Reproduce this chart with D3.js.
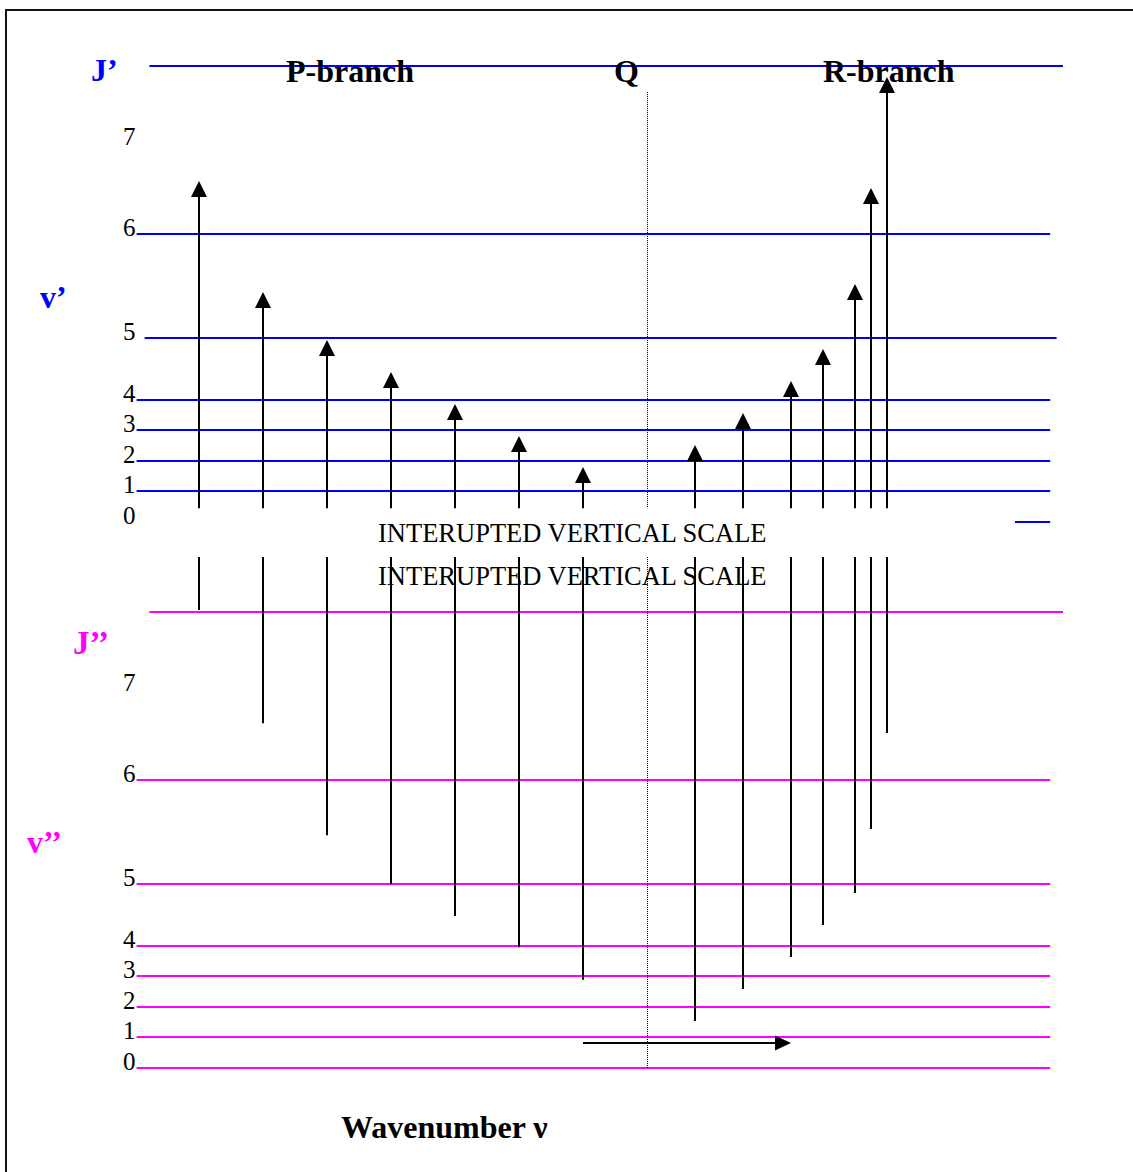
<!DOCTYPE html>
<html>
<head>
<meta charset="utf-8">
<script src="https://cdn.jsdelivr.net/npm/d3@7/dist/d3.min.js"></script>
<style>
  body { margin: 0; background: #fff; }
  svg { display: block; }
  text { font-family: "Liberation Serif", "Times New Roman", serif; }
</style>
</head>
<body>
<script>
// level labels and their (schematic) energies, in level-spacing units
const levelLabels = ["0", "1", "2", "3", "4", "5", "6", "7"];
const levelEnergy = [0, 1, 2, 3, 4, 6, 9.4, 12.4];

// wavenumber positions of the lines (Q = 0)
const pWavenumber = [-28, -24, -20, -16, -12, -8, -4];
const rWavenumber = [3, 6, 9, 11, 13, 14, 15];
const qWavenumber = 0;

// where each transition ends in the upper (J') and lower (J'') panels
const pUpperEnd = [11.14, 7.52, 5.95, 4.90, 3.86, 2.81, 1.80];
const rUpperEnd = [2.52, 3.56, 4.61, 5.65, 7.78, 10.92, 14.54];
const pLowerEnd = [14.97, 11.27, 7.61, 6.01, 4.97, 3.95, 2.88];
const rLowerEnd = [1.54, 2.58, 3.63, 4.67, 5.72, 7.81, 10.95];

const topLevel = 14.9;      // J' / J'' reference line
const breakUpper = 0.45;    // where the upper panel is cut
const breakLower = 16.7;    // where the lower panel is cut
const shiftArrow = [-4, 9]; // horizontal arrow along wavenumber

const width = 1133, height = 1172;
const blue = "#0000ff", magenta = "#ff00ff";

const svg = d3.select("body").append("svg")
    .attr("width", width)
    .attr("height", height);

// frame (only top and left are inside the picture)
svg.append("rect")
    .attr("x", 6).attr("y", 10)
    .attr("width", 1200).attr("height", 1250)
    .attr("fill", "none")
    .attr("stroke", "#111")
    .attr("stroke-width", 2);

var x = d3.scaleLinear().domain([-28, 15]).range([199, 887]);
var yUp = d3.scaleLinear().domain([0, 15]).range([522, 63]);
var yLo = d3.scaleLinear().domain([0, 15]).range([1068, 609]);

var transitions = pWavenumber.map((w, i) => ({ w: w, up: pUpperEnd[i], lo: pLowerEnd[i] }))
  .concat(rWavenumber.map((w, i) => ({ w: w, up: rUpperEnd[i], lo: rLowerEnd[i] })));

function hline(g, y0, x0, x1, color) {
  y0 = Math.round(y0);
  g.append("line")
    .attr("x1", x(x0)).attr("x2", x(x1))
    .attr("y1", y0).attr("y2", y0)
    .attr("stroke", color)
    .attr("stroke-width", 2);
}

// upper panel levels
var up = svg.append("g");
hline(up, yUp(topLevel), -31.1, 26, blue);
levelEnergy.forEach((e, i) => {
  if (i === 0) hline(up, yUp(e), 23, 25.2, blue);
  else if (i === 5) hline(up, yUp(e), -31.4, 25.6, blue);
  else if (i < 7) hline(up, yUp(e), -31.9, 25.2, blue);
  up.append("text")
    .attr("x", 123).attr("y", yUp(e) + 2)
    .attr("font-size", 25)
    .text(levelLabels[i]);
});

// lower panel levels
var lo = svg.append("g");
hline(lo, yLo(topLevel), -31.1, 26, magenta);
levelEnergy.forEach((e, i) => {
  if (i < 7) hline(lo, yLo(e), -31.9, 25.2, magenta);
  lo.append("text")
    .attr("x", 123).attr("y", yLo(e) + 2)
    .attr("font-size", 25)
    .text(levelLabels[i]);
});

// Q dotted line, cut like the scale
[[yUp(topLevel - 0.85), yUp(breakUpper)], [yLo(breakLower), yLo(0)]].forEach(s => {
  svg.append("line")
    .attr("x1", x(qWavenumber) + 0.5).attr("x2", x(qWavenumber) + 0.5)
    .attr("y1", s[0]).attr("y2", s[1])
    .attr("stroke", "#000")
    .attr("stroke-width", 1)
    .attr("stroke-dasharray", "1,1");
});

// transitions: arrows in the upper panel, plain lines in the lower one
var tr = svg.append("g");
transitions.forEach(d => {
  var cx = Math.round(x(d.w)), tip = Math.round(yUp(d.up));
  tr.append("line")
    .attr("x1", cx).attr("x2", cx)
    .attr("y1", yUp(breakUpper)).attr("y2", tip + 14)
    .attr("stroke", "#000").attr("stroke-width", 2);
  tr.append("path")
    .attr("d", "M" + cx + "," + tip + "L" + (cx - 8) + "," + (tip + 16) + "L" + (cx + 8) + "," + (tip + 16) + "Z")
    .attr("fill", "#000");
  tr.append("line")
    .attr("x1", cx).attr("x2", cx)
    .attr("y1", yLo(breakLower)).attr("y2", yLo(d.lo))
    .attr("stroke", "#000").attr("stroke-width", 2);
});

// horizontal arrow
var ay = Math.round(yLo(0.82)), ax0 = x(shiftArrow[0]), ax1 = x(shiftArrow[1]);
tr.append("line")
  .attr("x1", ax0).attr("x2", ax1 - 14)
  .attr("y1", ay).attr("y2", ay)
  .attr("stroke", "#000").attr("stroke-width", 2);
tr.append("path")
  .attr("d", "M" + ax1 + "," + ay + "L" + (ax1 - 16) + "," + (ay - 7.5) + "L" + (ax1 - 16) + "," + (ay + 7.5) + "Z")
  .attr("fill", "#000");

// labels
function label(txt, lx, ly, size, color, bold) {
  svg.append("text")
    .attr("x", lx).attr("y", ly)
    .attr("font-size", size)
    .attr("font-weight", bold ? "bold" : "normal")
    .attr("fill", color)
    .text(txt);
}
label("J\u2019", 91, 81, 32, blue, true);
label("P-branch", 286, 82, 32, "#000", true);
label("Q", 614, 82, 32, "#000", true);
label("R-branch", 823, 82, 32, "#000", true);
label("v\u2019", 40, 308, 32, blue, true);
label("J\u2019\u2019", 73, 654, 33, magenta, true);
label("v\u2019\u2019", 27, 853, 32, magenta, true);
label("INTERUPTED VERTICAL SCALE", 378, 542, 26.5, "#000", false);
label("INTERUPTED VERTICAL SCALE", 378, 585, 26.5, "#000", false);
label("Wavenumber \u03bd", 341, 1138, 32, "#000", true);
</script>
</body>
</html>
